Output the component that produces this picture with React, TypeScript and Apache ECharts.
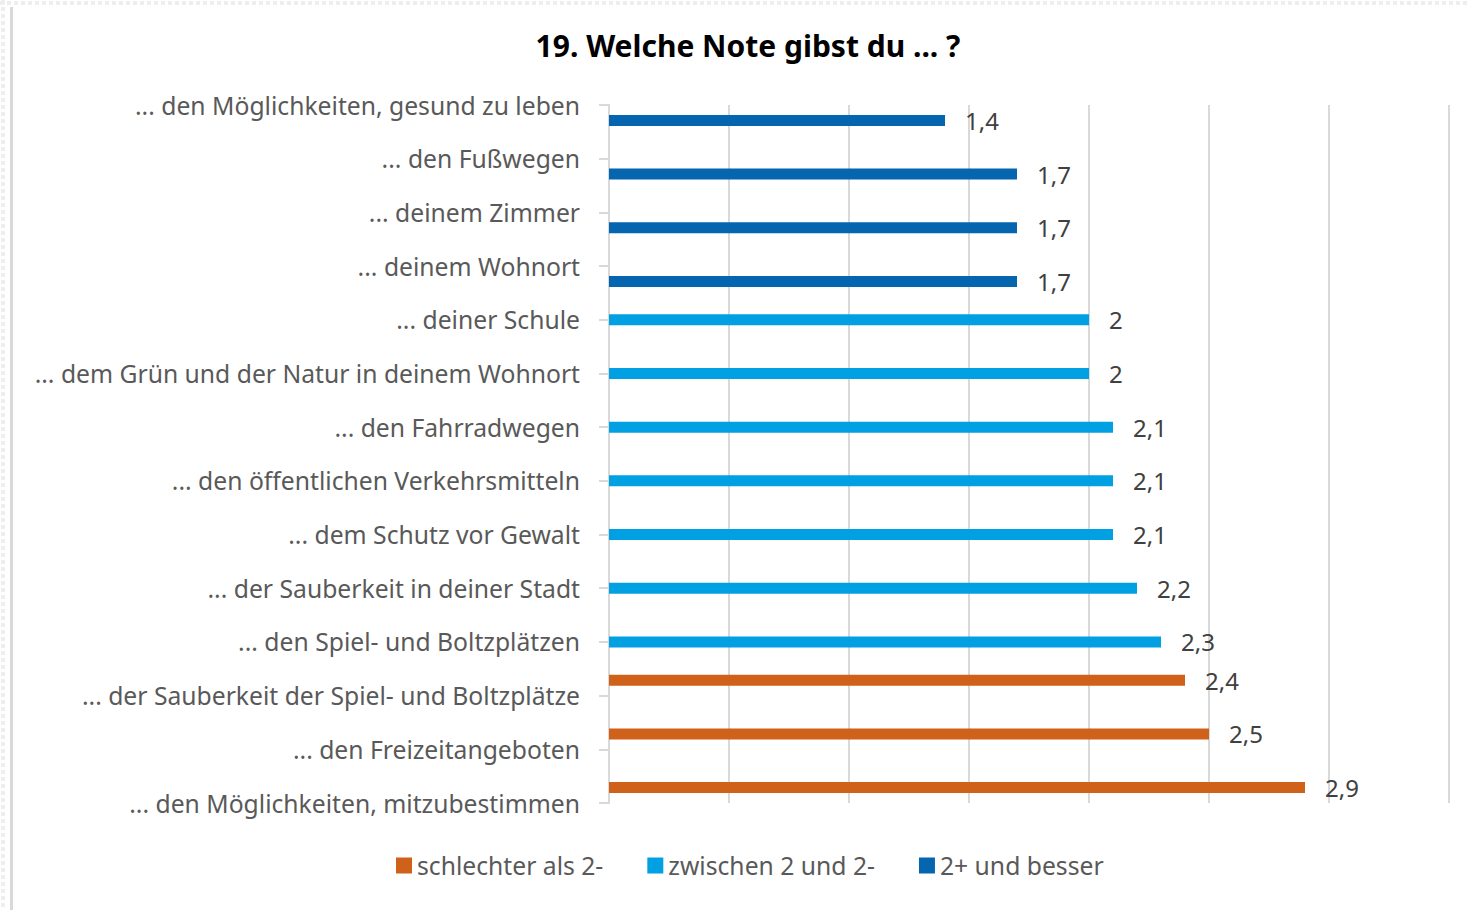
import React, { useEffect, useRef } from "react";
import * as echarts from "echarts";

const categories = [
  "... den Möglichkeiten, gesund zu leben",
  "... den Fußwegen",
  "... deinem Zimmer",
  "... deinem Wohnort",
  "... deiner Schule",
  "... dem Grün und der Natur in deinem Wohnort",
  "... den Fahrradwegen",
  "... den öffentlichen Verkehrsmitteln",
  "... dem Schutz vor Gewalt",
  "... der Sauberkeit in deiner Stadt",
  "... den Spiel- und Boltzplätzen",
  "... der Sauberkeit der Spiel- und Boltzplätze",
  "... den Freizeitangeboten",
  "... den Möglichkeiten, mitzubestimmen",
];

const worseThan2Minus = [null, null, null, null, null, null, null, null, null, null, null, 2.4, 2.5, 2.9];
const between2And2Minus = [null, null, null, null, 2, 2, 2.1, 2.1, 2.1, 2.2, 2.3, null, null, null];
const twoPlusOrBetter = [1.4, 1.7, 1.7, 1.7, null, null, null, null, null, null, null, null, null, null];

const seriesNames = ["schlechter als 2-", "zwischen 2 und 2-", "2+ und besser"];
const seriesColors = ["#D0611A", "#00A0E3", "#0565AF"];
const xTicks = { min: 0, max: 3.5, interval: 0.5 };

const FONT = "'Noto Sans', 'Open Sans', sans-serif";
const TEXT_SIZE = 24.7;

export default function App() {
  const ref = useRef<HTMLDivElement>(null);

  useEffect(() => {
    if (!ref.current) return;
    const chart = echarts.init(ref.current, undefined, { renderer: "svg" });
    const seriesData = [worseThan2Minus, between2And2Minus, twoPlusOrBetter];

    chart.setOption({
      animation: false,
      backgroundColor: "#ffffff",
      textStyle: { fontFamily: FONT },
      grid: { left: 609, right: 21, top: 105, bottom: 107, containLabel: false },
      legend: {
        data: seriesNames,
        left: 391,
        top: 848,
        icon: "rect",
        itemWidth: 16,
        itemHeight: 16,
        itemGap: 44,
        textStyle: { fontSize: TEXT_SIZE, color: "#595959", fontFamily: FONT },
      },
      xAxis: {
        type: "value",
        min: xTicks.min,
        max: xTicks.max,
        interval: xTicks.interval,
        axisLine: { show: false },
        axisTick: { show: false },
        axisLabel: { show: false },
        splitLine: { show: true, lineStyle: { color: "#D9D9D9", width: 2 } },
      },
      yAxis: {
        type: "category",
        data: categories,
        inverse: true,
        boundaryGap: false,
        axisLine: { show: true, lineStyle: { color: "#D9D9D9", width: 2 } },
        axisTick: { show: true, length: 10, lineStyle: { color: "#D9D9D9", width: 2 } },
        axisLabel: { margin: 29, fontSize: TEXT_SIZE, color: "#595959", fontFamily: FONT },
        splitLine: { show: false },
      },
      series: seriesNames.map((name, i) => ({
        name,
        type: "bar",
        data: seriesData[i],
        barWidth: 11,
        barGap: "40%",
        itemStyle: { color: seriesColors[i] },
        label: {
          show: true,
          position: "right",
          distance: 20,
          fontSize: 24,
          color: "#404040",
          fontFamily: FONT,
          formatter: (p: any) => String(p.value).replace(".", ","),
        },
      })),
      graphic: [
        {
          type: "text",
          x: 748,
          y: 45,
          style: {
            text: "19. Welche Note gibst du ... ?",
            fontSize: 30,
            fontWeight: "bold",
            fill: "#000000",
            fontFamily: FONT,
            textAlign: "center",
            textVerticalAlign: "middle",
          },
        },
        { type: "rect", shape: { x: 10, y: 7, width: 3, height: 903 }, style: { fill: "#D9D9D9" } },
        {
          type: "line",
          shape: { x1: 0, y1: 3, x2: 1470, y2: 3 },
          style: { stroke: "#EEEEEE", lineWidth: 4, lineDash: [4, 3] },
        },
        {
          type: "line",
          shape: { x1: 3, y1: 0, x2: 3, y2: 910 },
          style: { stroke: "#EEEEEE", lineWidth: 4, lineDash: [4, 3] },
        },
      ],
    });

    return () => chart.dispose();
  }, []);

  return (
    <div
      ref={ref}
      style={{ position: "fixed", left: 0, top: 0, width: 1470, height: 910 }}
    />
  );
}
